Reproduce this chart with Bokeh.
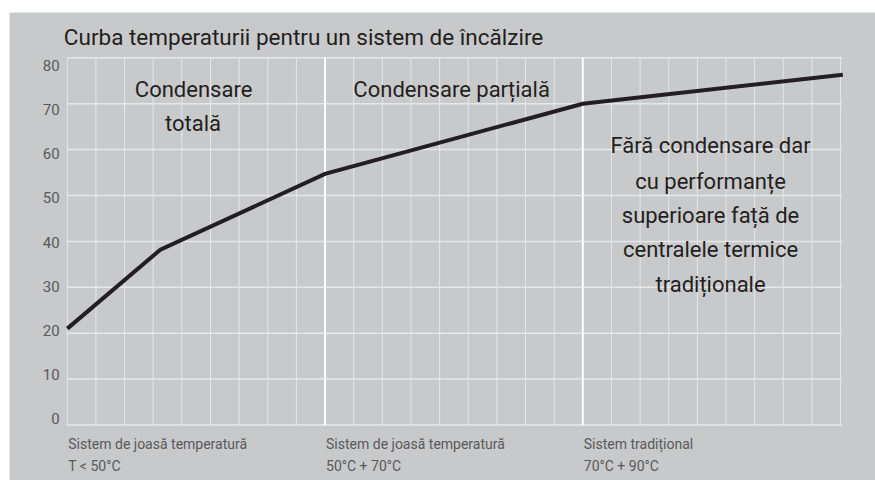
from bokeh.plotting import figure
from bokeh.models import Range1d
from bokeh.core.properties import value
from bokeh.embed import file_html
from bokeh.resources import INLINE

# data
curve_x = [0, 3.25, 9, 18, 27.08]
curve_y = [21.0, 38.2, 54.7, 70.0, 76.3]
y_ticks = [0, 10, 20, 30, 40, 50, 60, 70, 80]
y_tick_labels = ["0", "10", "20", "30", "40", "50", "60", "70", "80"]
x_grid = [i for i in range(0, 28) if i not in (9, 18)]
zone_bounds = [9, 18]
x_max = 27.05

title_text = "Curba temperaturii pentru un sistem de încălzire"
zone_text = ["Condensare", "totală", "Condensare parțială",
             "Fără condensare dar", "cu performanțe", "superioare față de",
             "centralele termice", "tradiționale"]
zone_x = [4.41, 4.39, 13.42, 22.46, 22.46, 22.46, 22.46, 22.46]
zone_y = [73.2, 65.7, 73.2, 60.9, 53.1, 45.7, 38.3, 30.6]
bottom_line1 = ["Sistem de joasă temperatură", "Sistem de joasă temperatură", "Sistem tradițional"]
bottom_line2 = ["T < 50°C", "50°C + 70°C", "70°C + 90°C"]
bottom_x = [0, 9, 18]

BG = "#c8c9cb"
DARK = "#231f20"
GREY = "#58595b"
GRID = "#e6e7e8"
FONT = "Roboto"

p = figure(width=866, height=468, output_backend="svg", toolbar_location=None,
           x_range=Range1d(-2.018, 28.22), y_range=Range1d(-12.09, 89.87),
           x_axis_type=None, y_axis_type=None, min_border=0,
           styles={"margin-left": "9px", "margin-top": "12px"})
p.background_fill_color = BG
p.border_fill_color = BG
p.outline_line_color = None

# grid
p.segment(x0=x_grid, y0=[0] * len(x_grid), x1=x_grid, y1=[80] * len(x_grid),
          line_color=GRID, line_width=1)
p.segment(x0=[0] * len(y_ticks), y0=y_ticks, x1=[x_max] * len(y_ticks), y1=y_ticks,
          line_color=GRID, line_width=1.5)
p.segment(x0=zone_bounds, y0=[0] * 2, x1=zone_bounds, y1=[80] * 2,
          line_color="#ffffff", line_width=2)

# y tick labels
label_y = [1.31 + 0.964 * v for v in y_ticks]
p.text(x=[-0.27] * len(y_ticks), y=label_y, text=y_tick_labels, text_align="right",
       text_baseline="middle", text_font=value(FONT), text_font_size="15px",
       text_color=GREY)

# curve
p.line(curve_x, curve_y, line_color=DARK, line_width=4, line_join="miter")

# zone annotations
p.text(x=zone_x, y=zone_y, text=zone_text, text_align="center", text_baseline="alphabetic",
       text_font=value(FONT), text_font_size="22px", text_color=DARK)

# title
p.text(x=[-0.12], y=[84.6], text=[title_text], text_align="left", text_baseline="alphabetic",
       text_font=value(FONT), text_font_size="22.5px", text_color=DARK)

# bottom labels
p.text(x=bottom_x, y=[-4.2] * 3, text=bottom_line1, text_align="left",
       text_baseline="alphabetic", text_font=value(FONT), text_font_size="14px",
       text_color=GREY, x_offset=1)
p.text(x=bottom_x, y=[-9.0] * 3, text=bottom_line2, text_align="left",
       text_baseline="alphabetic", text_font=value(FONT), text_font_size="14px",
       text_color=GREY, x_offset=1)

open("out.html", "w").write(file_html(p, INLINE))
